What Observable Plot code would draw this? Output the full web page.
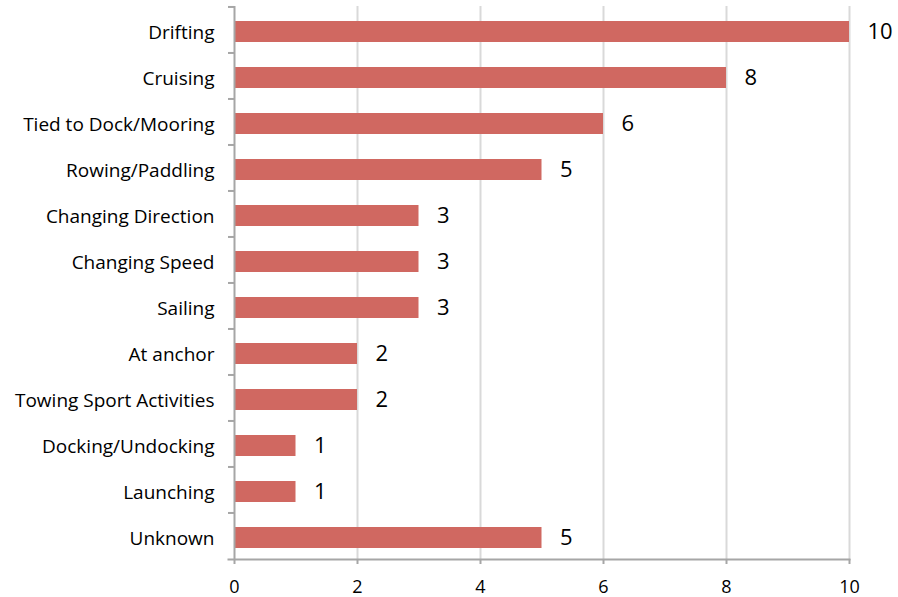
<!DOCTYPE html>
<html>
<head>
<meta charset="utf-8">
<script src="https://cdn.jsdelivr.net/npm/d3@7"></script>
<script src="https://cdn.jsdelivr.net/npm/@observablehq/plot@0.6"></script>
<style>
  html, body { margin: 0; padding: 0; background: #fff; }
  #chart svg { display: block; }
</style>
</head>
<body>
<div id="chart"></div>
<script>
const categories = ["Drifting", "Cruising", "Tied to Dock/Mooring", "Rowing/Paddling", "Changing Direction", "Changing Speed", "Sailing", "At anchor", "Towing Sport Activities", "Docking/Undocking", "Launching", "Unknown"];
const values = [10, 8, 6, 5, 3, 3, 3, 2, 2, 1, 1, 5];
const xTicks = [0, 2, 4, 6, 8, 10];

const data = categories.map((c, i) => ({category: c, value: values[i]}));

const W = 898, H = 597;
const mT = 6, mB = 38, mL = 234, mR = 49;
const step = (H - mT - mB) / categories.length;
const font = "'Open Sans', sans-serif";

const chart = Plot.plot({
  width: W,
  height: H,
  marginTop: mT,
  marginBottom: mB,
  marginLeft: mL,
  marginRight: mR,
  style: {fontFamily: font, color: "#000", background: "#fff"},
  x: {domain: [0, 10], ticks: xTicks},
  y: {domain: categories, paddingInner: 0.545, paddingOuter: 0.2725, label: null},
  marks: [
    Plot.gridX(xTicks.filter(t => t > 0), {stroke: "#d9d9d9", strokeOpacity: 1, strokeWidth: 2}),
    Plot.barX(data, {x: "value", y: "category", fill: "#d06861", dy: 2}),
    Plot.text(data, {x: "value", y: "category", text: d => String(d.value), textAnchor: "start", dx: 18, dy: 2, fontSize: 22, fill: "#000"}),
    Plot.ruleX([0], {stroke: "#a6a6a6", strokeWidth: 2}),
    Plot.frame({anchor: "bottom", stroke: "#a6a6a6", strokeWidth: 2, insetLeft: -6}),
    Plot.axisX({ticks: xTicks, tickSize: 5, tickPadding: 16, stroke: "#a6a6a6", strokeWidth: 2, fontSize: 18, label: null, fill: "#000"}),
    Plot.axisY({tickSize: 6, tickFormat: () => "", dy: -step / 2, stroke: "#a6a6a6", strokeWidth: 2, label: null}),
    Plot.axisY({tickSize: 0, tickPadding: 20, fontSize: 19, dy: 3, label: null, fill: "#000"})
  ]
});
document.getElementById("chart").appendChild(chart);
</script>
</body>
</html>
